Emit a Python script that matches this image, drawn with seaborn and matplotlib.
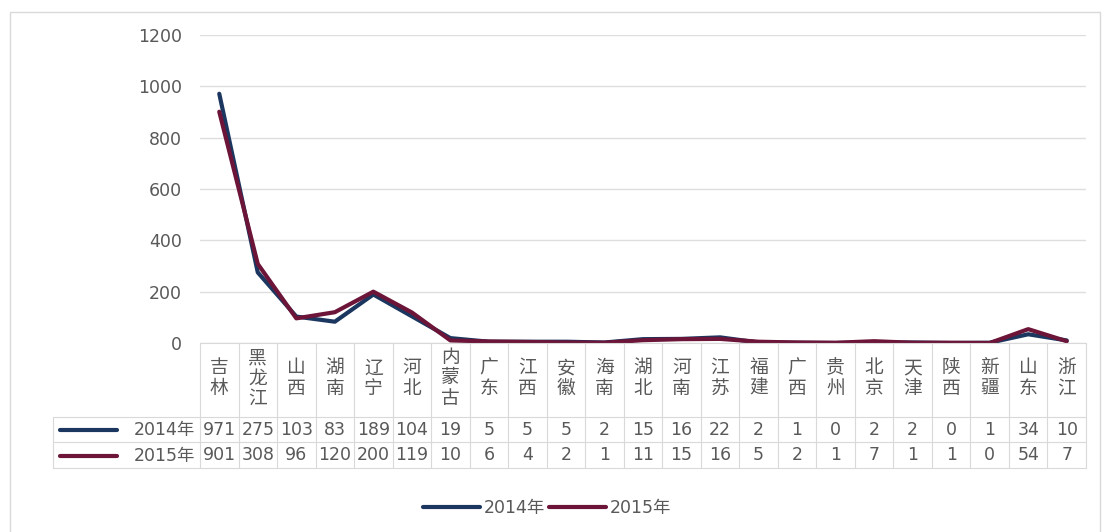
import numpy as np
import pandas as pd
import seaborn as sns
import matplotlib.pyplot as plt
from matplotlib.lines import Line2D
from matplotlib.patches import Rectangle
import matplotlib.transforms as mtransforms

provinces = ['吉林', '黑龙江', '山西', '湖南', '辽宁', '河北', '内蒙古', '广东', '江西', '安徽', '海南',
             '湖北', '河南', '江苏', '福建', '广西', '贵州', '北京', '天津', '陕西', '新疆', '山东', '浙江']
v2014 = [971, 275, 103, 83, 189, 104, 19, 5, 5, 5, 2, 15, 16, 22, 2, 1, 0, 2, 2, 0, 1, 34, 10]
v2015 = [901, 308, 96, 120, 200, 119, 10, 6, 4, 2, 1, 11, 15, 16, 5, 2, 1, 7, 1, 1, 0, 54, 7]
series_names = ['2014年', '2015年']
y_ticks = [0, 200, 400, 600, 800, 1000, 1200]

colors = {'2014年': '#1B365F', '2015年': '#6C1538'}
W, H = 1102, 532
FS = 12.5
text_c = '#595959'

sns.set_theme(style='white')
plt.rcParams['font.family'] = ['DejaVu Sans', 'Noto Sans CJK SC']

n = len(provinces)
df = pd.DataFrame({
    'pos': list(range(n)) * 2,
    'value': v2014 + v2015,
    'year': [series_names[0]] * n + [series_names[1]] * n,
})

fig = plt.figure(figsize=(W / 100, H / 100), dpi=100)
# plot area in pixel terms: x 200..1086, y 35..343
ax = fig.add_axes([200 / W, 1 - 343 / H, (1086 - 200) / W, (343 - 35) / H])

sns.lineplot(data=df, x='pos', y='value', hue='year', palette=colors,
             linewidth=3.0, ax=ax, legend=False, sort=False)

ax.set_xlim(-0.5, n - 0.5)
ax.set_ylim(0, 1200)
ax.set_yticks(y_ticks)
ax.set_yticklabels([str(t) for t in y_ticks], color=text_c, fontsize=FS)
ax.tick_params(axis='y', length=0, pad=13)
ax.set_xticks([])
ax.set_xlabel('')
ax.set_ylabel('')
for s in ax.spines.values():
    s.set_visible(False)
ax.grid(axis='y', color='#DEDEDE', linewidth=1)
ax.set_axisbelow(True)

# data table below the plot
blend = mtransforms.blended_transform_factory(ax.transData, ax.transAxes)
ph = 343 - 35


def ya(py):
    # pixel row -> axes fraction
    return (343 - py) / ph


grid_c = '#D9D9D9'
hdr_bot, row_mid, tab_bot = 417, 442, 468
for i in range(n + 1):
    ax.plot([i - 0.5, i - 0.5], [ya(343), ya(tab_bot)], transform=blend,
            color=grid_c, lw=0.8, clip_on=False)
for py in [343, hdr_bot, row_mid, tab_bot]:
    ax.plot([-0.5, n - 0.5], [ya(py), ya(py)], transform=blend,
            color=grid_c, lw=0.8, clip_on=False)
for i, name in enumerate(provinces):
    ax.text(i, ya(378), '\n'.join(name), transform=blend, ha='center', va='center',
            fontsize=13.5, color=text_c, linespacing=1.1, clip_on=False)
    ax.text(i, ya(430), str(v2014[i]), transform=blend, ha='center', va='center',
            fontsize=FS, color=text_c, clip_on=False)
    ax.text(i, ya(455.5), str(v2015[i]), transform=blend, ha='center', va='center',
            fontsize=FS, color=text_c, clip_on=False)

# row label column
for py in [hdr_bot, row_mid, tab_bot]:
    fig.add_artist(Line2D([53 / W, 200 / W], [1 - py / H, 1 - py / H], color=grid_c, lw=0.8))
fig.add_artist(Line2D([53 / W, 53 / W], [1 - hdr_bot / H, 1 - tab_bot / H], color=grid_c, lw=0.8))
for name, mid in zip(series_names, [430, 455.5]):
    fig.add_artist(Line2D([60 / W, 117 / W], [1 - mid / H, 1 - mid / H],
                          color=colors[name], lw=3.0, solid_capstyle='round'))
    fig.text(195 / W, 1 - mid / H, name, ha='right', va='center', fontsize=FS, color=text_c)

# legend
handles = [Line2D([], [], color=colors[s], lw=3.0) for s in series_names]
fig.legend(handles, series_names, loc='center', bbox_to_anchor=(547 / W, 1 - 508 / H),
           ncol=2, frameon=False, fontsize=FS, handlelength=3.3, handletextpad=0.2,
           columnspacing=0.25, labelcolor=text_c)

# chart border
fig.add_artist(Rectangle((10 / W, -0.01), (1100 - 10) / W, 1 - 12 / H + 0.01,
                         transform=fig.transFigure, fill=False, edgecolor='#D9D9D9', lw=1))

fig.savefig('out.png', dpi=100)
